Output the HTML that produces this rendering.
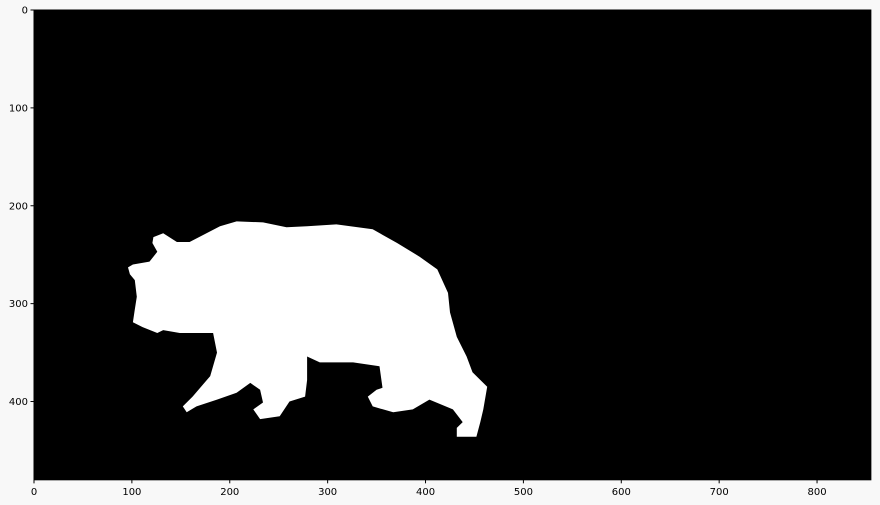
<!DOCTYPE html>
<html><head><meta charset="utf-8"><style>
html,body{margin:0;padding:0;background:#f8f8f8;}
svg{display:block;font-family:"DejaVu Sans","Liberation Sans",sans-serif;}
</style></head><body>
<svg id="chart" width="880" height="505"></svg>
<script>
const imgWidth = 855;
const imgHeight = 480;
const xTicks = [0,100,200,300,400,500,600,700,800];
const yTicks = [0,100,200,300,400];
const bearX = [122,132,146,159,190,207,234,258,279,309,346,371,394,412,423,425,432,442,448,463,459,456,452,432,432,438,428,404,387,367,346,341,350,356,353,326,292,279,279,277,261,251,231,224,234,231,221,207,187,166,156,152,162,180,187,183,149,132,126,111,101,103,105,103,98,96,101,118,126,121];
const bearY = [232,228,237,237,221,216,217,222,221,219,224,238,252,265,289,309,334,354,370,385,408,421,436,436,427,421,408,398,408,411,405,395,388,386,364,360,360,354,378,395,400,415,418,408,401,388,381,391,398,405,411,405,395,374,350,330,330,327,330,324,319,306,293,276,270,263,260,257,247,238];

const L=34, T=10, S=0.9788;
const sx = v => L + v*S;
const sy = v => T + v*S;
const NS="http://www.w3.org/2000/svg";
const svg=document.getElementById('chart');
function mk(tag, attrs){const e=document.createElementNS(NS,tag);for(const k in attrs)e.setAttribute(k,attrs[k]);svg.appendChild(e);return e;}

const bg=mk('rect',{x:sx(0),y:sy(0),width:imgWidth*S,height:imgHeight*S,fill:'#000'});



let d='';
for(let i=0;i<bearX.length;i++){d+=(i?'L':'M')+sx(bearX[i]).toFixed(1)+','+sy(bearY[i]).toFixed(1);}
d+='Z';
const bear=mk('path',{d:d,fill:'#fff'});



const frame=mk('rect',{x:sx(0),y:sy(0),width:imgWidth*S,height:imgHeight*S,fill:'none',stroke:'#000','stroke-width':1});



xTicks.forEach(v=>{
  const t=mk('line',{x1:sx(v),x2:sx(v),y1:sy(imgHeight),y2:sy(imgHeight)+3.5,stroke:'#000'});
  
  
  const l=mk('text',{x:sx(v),y:sy(imgHeight)+15,'text-anchor':'middle','font-size':10,fill:'#000'});
  l.textContent=v;
  
  
});
yTicks.forEach(v=>{
  const t=mk('line',{x1:sx(0)-3.5,x2:sx(0),y1:sy(v),y2:sy(v),stroke:'#000'});
  
  
  const l=mk('text',{x:sx(0)-6,y:sy(v)+3.5,'text-anchor':'end','font-size':10,fill:'#000'});
  l.textContent=v;
  
  
});
</script>
</body></html>
